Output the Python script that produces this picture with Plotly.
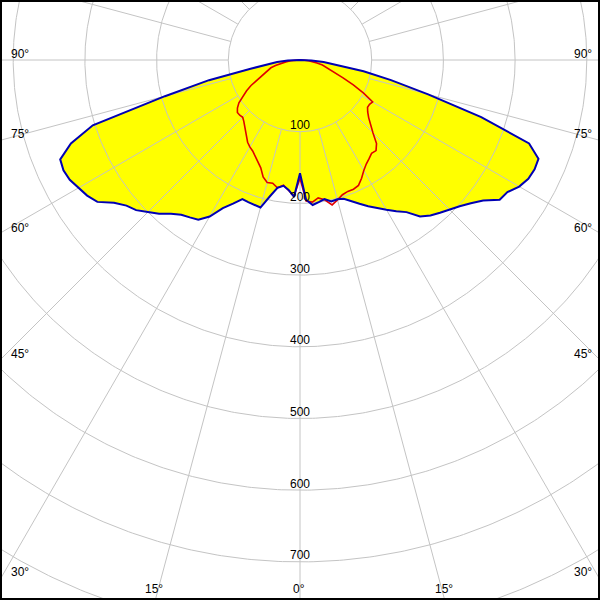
import numpy as np
import plotly.graph_objects as go

# ---- data: luminous intensity (cd/klm) versus gamma angle ----
gamma = [0, 2.5, 5, 7.5, 10, 12.5, 15, 17.5, 20, 22.5, 25, 27.5, 30, 32.5, 35, 37.5,
         40, 42.5, 45, 47.5, 50, 52.5, 55, 57.5, 60, 62.5, 65, 67.5, 70, 72.5, 75,
         77.5, 80, 82.5, 85, 87.5, 90]

# C180 half-plane (left) and C0 half-plane (right) -> blue, filled
c180 = [158, 191, 182, 177, 181, 195, 213, 212, 211, 210, 221, 233, 252, 264, 268, 272,
        280, 291, 300, 310, 316, 327, 345, 352, 357, 362, 364, 362, 340, 303, 195,
        130, 70, 45, 32, 17, 0]
c0 = [158, 195, 203, 200, 197, 202, 201, 203, 210, 217, 225, 233, 241, 250, 259, 275,
      283, 289, 295, 302, 311, 322, 340, 343, 353, 359, 361, 360, 340, 265, 185,
      130, 90, 50, 33, 16, 0]

# C270 half-plane (left) and C90 half-plane (right) -> red
c270 = [165, 190, 182, 176, 181, 176, 177, 171, 160, 153, 148, 143, 140, 136, 130, 125,
        120, 116, 113, 114, 114, 110, 104, 95, 86, 77, 68, 60, 52, 46, 42,
        35, 26, 20, 13, 6, 0]
c90 = [165, 197, 199, 194, 198, 207, 202, 197, 195, 195, 193, 186, 178, 172, 168, 164,
       165, 158, 144, 133, 125, 119, 115, 115, 117, 100, 82, 65, 52, 44, 38,
       32, 24, 18, 12, 6, 0]

radial_ticks = [100, 200, 300, 400, 500, 600, 700, 800]
radial_labels = ["100", "200", "300", "400", "500", "600", "700"]
spoke_step = 15
left_angle_labels = ["90°", "75°", "60°", "45°", "30°"]
right_angle_labels = ["90°", "75°", "60°", "45°", "30°"]
bottom_angle_labels = ["15°", "0°", "15°"]

# ---- helpers ----
def half(vals, side):
    g = np.radians(np.array(gamma, dtype=float))
    r = np.array(vals, dtype=float)
    return side * r * np.sin(g), -r * np.cos(g)

bl_x, bl_y = half(c180, -1)
br_x, br_y = half(c0, 1)
rl_x, rl_y = half(c270, -1)
rr_x, rr_y = half(c90, 1)

blue_x = np.concatenate([bl_x[::-1], br_x])
blue_y = np.concatenate([bl_y[::-1], br_y])
red_x = np.concatenate([rl_x[::-1], rr_x])
red_y = np.concatenate([rl_y[::-1], rr_y])

# grid (circles + spokes)
gx, gy = [], []
t = np.linspace(0, 2 * np.pi, 721)
for r in radial_ticks:
    gx += list(r * np.cos(t)) + [None]
    gy += list(r * np.sin(t)) + [None]
for a in range(0, 360, spoke_step):
    ar = np.radians(a)
    gx += [100 * np.sin(ar), 900 * np.sin(ar), None]
    gy += [-100 * np.cos(ar), -900 * np.cos(ar), None]

fig = go.Figure()
fig.add_trace(go.Scatter(x=blue_x, y=blue_y, mode="lines", fill="toself",
                         fillcolor="#ffff00", line=dict(width=0, color="#ffff00"),
                         hoverinfo="skip"))
fig.add_trace(go.Scatter(x=gx, y=gy, mode="lines",
                         line=dict(color="#c4c4c4", width=1), hoverinfo="skip"))
fig.add_trace(go.Scatter(x=red_x, y=red_y, mode="lines",
                         line=dict(color="#e00000", width=1.6)))
fig.add_trace(go.Scatter(x=blue_x, y=blue_y, mode="lines",
                         line=dict(color="#0000b4", width=2)))

font = dict(family="Liberation Sans, Arial, sans-serif", size=12, color="black")
ann = []
for r, lab in zip(radial_ticks, radial_labels):
    ann.append(dict(x=0, y=-r, xref="x", yref="y", text=lab, showarrow=False,
                    xanchor="center", yanchor="middle", yshift=6.5, font=font))

W = H = 600.0
left_pos = [54, 133.5, 227.5, 354, 572]
for lab, py in zip(left_angle_labels, left_pos):
    ann.append(dict(x=9 / W, y=1 - py / H, xref="paper", yref="paper", text=lab,
                    showarrow=False, xanchor="left", yanchor="middle", font=font))
right_pos = [54, 133.5, 227.5, 354, 572]
for lab, py in zip(right_angle_labels, right_pos):
    ann.append(dict(x=572 / W, y=1 - py / H, xref="paper", yref="paper", text=lab,
                    showarrow=False, xanchor="left", yanchor="middle", font=font))
bottom_pos = [154, 299, 444]
for lab, px in zip(bottom_angle_labels, bottom_pos):
    ann.append(dict(x=px / W, y=1 - 589 / H, xref="paper", yref="paper", text=lab,
                    showarrow=False, xanchor="center", yanchor="middle", font=font))

scale = 0.717  # px per unit
fig.update_layout(
    width=600, height=600,
    margin=dict(l=0, r=0, t=0, b=0),
    paper_bgcolor="white", plot_bgcolor="white",
    showlegend=False,
    xaxis=dict(range=[-300 / scale, 300 / scale], visible=False, fixedrange=True),
    yaxis=dict(range=[-540 / scale, 60 / scale], visible=False, fixedrange=True),
    annotations=ann,
    shapes=[dict(type="rect", xref="paper", yref="paper", x0=0, y0=0, x1=1, y1=1,
                 line=dict(color="black", width=4), layer="above")],
)

fig.write_html("out.html", config={"displayModeBar": False},
               post_script="document.body.style.margin='0';document.body.style.overflow='hidden';")
